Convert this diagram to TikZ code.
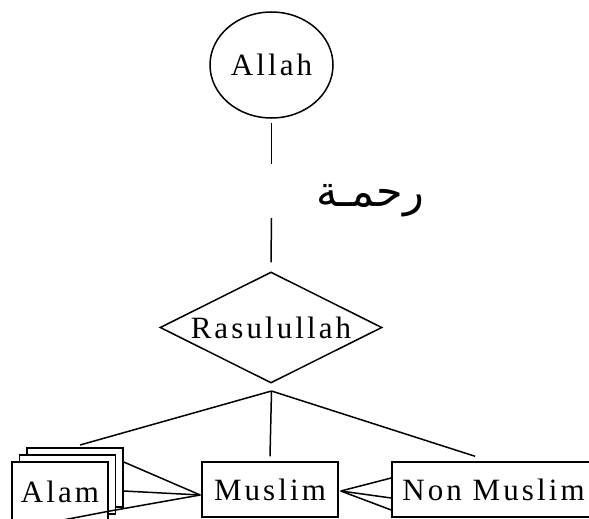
\documentclass[tikz,border=0pt]{standalone}
\usepackage{fontspec}
\setmainfont{Liberation Serif}[LetterSpace=10]
\newfontfamily\arabicfont[Script=Arabic]{DejaVu Sans}
\TeXXeTstate=1
\usetikzlibrary{shapes.geometric}
\begin{document}
\begin{tikzpicture}[x=1pt,y=-1pt,line width=1.5pt,
  lbl/.style={font=\fontsize{31}{37}\selectfont},
  ent/.style={draw,fill=white,rectangle,inner sep=0pt,line width=1.5pt,lbl},
  link/.style={draw,line width=1.5pt}]
\useasboundingbox (0,0) rectangle (589,519);
\clip (0,0) rectangle (589,519);
% Allah
\node[draw,ellipse,inner sep=0pt,line width=1.5pt,minimum width=123pt,minimum height=106pt,lbl] (allah) at (271.5,65) {Allah};
\coordinate (c1) at (271.5,164);
\coordinate (c2) at (271.5,218);
\draw[link] ([yshift=-4pt]allah.south) -- (c1);
\node[font=\arabicfont\fontsize{43}{48}\selectfont,anchor=center] (rahmah) at (370,201) {\beginR رحمـة\endR};
% Rasulullah
\node[draw,diamond,shape aspect=2,inner sep=0pt,line width=1.5pt,minimum width=222pt,minimum height=111pt,lbl] (rasul) at (271,327.5) {Rasulullah};
\draw[link] (c2) -- ([yshift=9pt]rasul.north);
\coordinate (hub) at (271.5,391);
% Alam stacked boxes
\node[ent,minimum width=96pt,minimum height=59pt] (alam3) at (75,477.5) {};
\node[ent,minimum width=96pt,minimum height=59pt] (alam2) at (67.5,484.5) {};
\node[ent,minimum width=96pt,minimum height=59pt] (alam) at (60,491.5) {Alam};
% Muslim
\node[ent,minimum width=136pt,minimum height=55pt] (muslim) at (270,489.5) {Muslim};
\node[ent,minimum width=203pt,minimum height=55pt] (non) at (493.5,489.5) {Non Muslim};
% connectors from hub
\coordinate (lend) at (80,445);
\draw[link] (hub) -- (lend);
\draw[link] (hub) -- ([yshift=5pt]muslim.north);
\draw[link] (hub) -- ([yshift=5pt]non.north west -| 475,0);
% crow's foot Alam - Muslim
\coordinate (mfoot) at ([xshift=-1pt,yshift=-5.5pt]muslim.west);
\coordinate (alamlow) at (110,511);
\coordinate (alamtail) at (63,520);
\draw[link] (mfoot) -- (alam3.north east |- 0,462);
\draw[link] (mfoot) -- (alam3.east |- 0,491);
\draw[link] (mfoot) -- (alamlow) -- (alamtail);
% crow's foot Non Muslim - Muslim
\coordinate (nfoot) at ([xshift=2pt,yshift=-1.5pt]muslim.east);
\draw[link] (nfoot) -- (non.west |- 0,478);
\draw[link] (nfoot) -- (non.west |- 0,498);
\draw[link] (nfoot) -- (non.west |- 0,510);
\end{tikzpicture}
\end{document}
